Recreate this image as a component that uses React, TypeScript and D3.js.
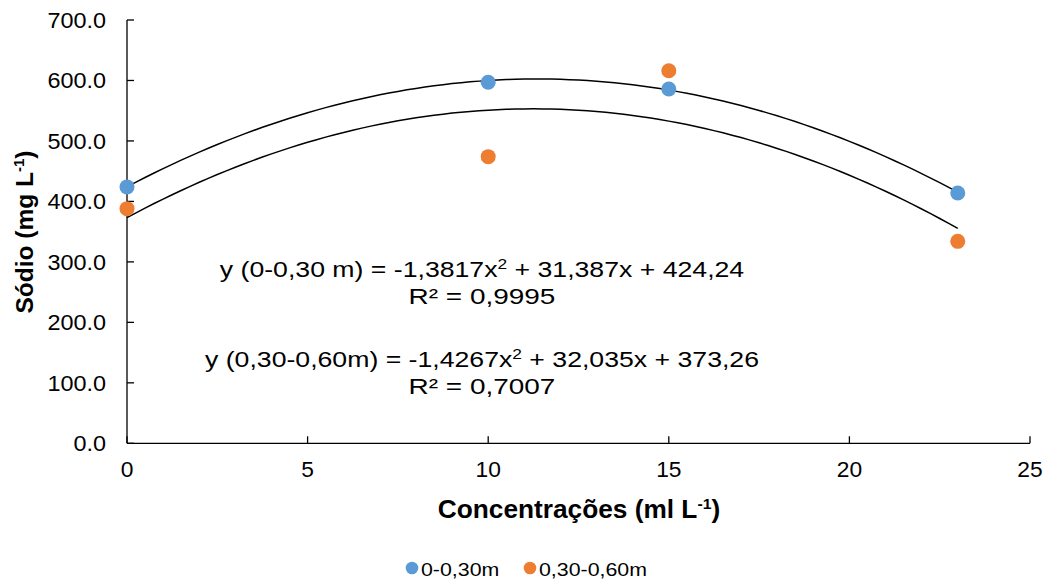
import React, { useEffect, useRef } from "react";
import * as d3 from "d3";

// chart values
const xValues = [0, 10, 15, 23];
const serie1 = [424, 597, 586, 414]; // 0-0,30m
const serie2 = [388, 474, 616, 334]; // 0,30-0,60m
const seriesNames = ["0-0,30m", "0,30-0,60m"];
const seriesColors = ["#5B9BD5", "#ED7D31"];
// trendline coefficients [a, b, c] for a*x^2 + b*x + c
const coef1 = [-1.3817, 31.387, 424.24];
const coef2 = [-1.4267, 32.035, 373.26];
const eqLabels = [
  ["y (0-0,30 m) = -1,3817x", " + 31,387x + 424,24", "R² = 0,9995"],
  ["y (0,30-0,60m) = -1,4267x", " + 32,035x + 373,26", "R² = 0,7007"],
];
const xTicks = [0, 5, 10, 15, 20, 25];
const yTicks = [0, 100, 200, 300, 400, 500, 600, 700];

const W = 1048, H = 580;
const font = "'Liberation Sans', Arial, sans-serif";

export default function App() {
  const ref = useRef<SVGSVGElement>(null);

  useEffect(() => {
    const svg = d3.select(ref.current);
    svg.selectAll("*").remove();

    const x = d3.scaleLinear().domain([0, 25]).range([127, 1030]);
    const y = d3.scaleLinear().domain([0, 700]).range([443.3, 20]);

    const g = svg.append("g").attr("font-family", font).attr("fill", "#000");

    // text placed at (tx,ty), stretched a bit wider like the original
    const label = (tx: number, ty: number, sx: number, size: number, anchor: string) =>
      g.append("text")
        .attr("transform", `translate(${tx},${ty}) scale(${sx},1)`)
        .attr("text-anchor", anchor).attr("font-size", size);

    // y axis
    g.append("line").attr("x1", x(0)).attr("x2", x(0)).attr("y1", y(0)).attr("y2", y(700))
      .attr("stroke", "#000").attr("stroke-width", 1.3);
    yTicks.forEach(t => {
      g.append("line").attr("x1", x(0)).attr("x2", x(0) + 7).attr("y1", y(t)).attr("y2", y(t))
        .attr("stroke", "#000").attr("stroke-width", 1.3);
      label(106, y(t) + 7.7, 1.09, 21.5, "end").text(t.toFixed(1));
    });

    // x axis
    g.append("line").attr("x1", x(0)).attr("x2", x(25)).attr("y1", y(0)).attr("y2", y(0))
      .attr("stroke", "#000").attr("stroke-width", 1.3);
    xTicks.forEach(t => {
      g.append("line").attr("x1", x(t)).attr("x2", x(t)).attr("y1", y(0)).attr("y2", y(0) - 7)
        .attr("stroke", "#000").attr("stroke-width", 1.3);
      label(x(t), 477, 1.06, 21.5, "middle").text(t);
    });

    // trend lines
    const line = d3.line<number[]>().x(d => x(d[0])).y(d => y(d[1]));
    [coef1, coef2].forEach(c => {
      const pts = d3.range(0, 23.001, 0.25).map(v => [v, c[0] * v * v + c[1] * v + c[2]]);
      g.append("path").attr("d", line(pts)).attr("fill", "none")
        .attr("stroke", "#000").attr("stroke-width", 1.5);
    });

    // points
    [serie1, serie2].forEach((s, i) => {
      g.selectAll(null).data(s).enter().append("circle")
        .attr("cx", (d, j) => x(xValues[j])).attr("cy", d => y(d))
        .attr("r", 7.5).attr("fill", seriesColors[i]);
    });

    // equations
    const eqY = [[277, 304], [367, 394]];
    eqLabels.forEach((e, i) => {
      const t = label(482, eqY[i][0], 1.24, 21.5, "middle");
      t.append("tspan").text(e[0]);
      t.append("tspan").attr("dy", -8).attr("font-size", 14).text("2");
      t.append("tspan").attr("dy", 8).text(e[1]);
      label(482, eqY[i][1], 1.3, 21.5, "middle").text(e[2]);
    });

    // axis titles
    const yt = g.append("text").attr("transform", "translate(33,232) rotate(-90)")
      .attr("text-anchor", "middle").attr("font-size", 24.5).attr("font-weight", "bold");
    yt.append("tspan").text("Sódio (mg L");
    yt.append("tspan").attr("dy", -9).attr("font-size", 15).text("-1");
    yt.append("tspan").attr("dy", 9).text(")");

    const xt = label(579, 518, 1.05, 25, "middle").attr("font-weight", "bold");
    xt.append("tspan").text("Concentrações (ml L");
    xt.append("tspan").attr("dy", -9).attr("font-size", 15).text("-1");
    xt.append("tspan").attr("dy", 9).text(")");

    // legend
    const legX = [412, 530];
    seriesNames.forEach((n, i) => {
      g.append("circle").attr("cx", legX[i]).attr("cy", 568).attr("r", 6.3).attr("fill", seriesColors[i]);
      label(legX[i] + 9, 576, 1.22, 17.5, "start").text(n);
    });
  }, []);

  return (
    <svg ref={ref} width={W} height={H}
      style={{ position: "absolute", left: 0, top: 0, background: "#fff" }} />
  );
}
